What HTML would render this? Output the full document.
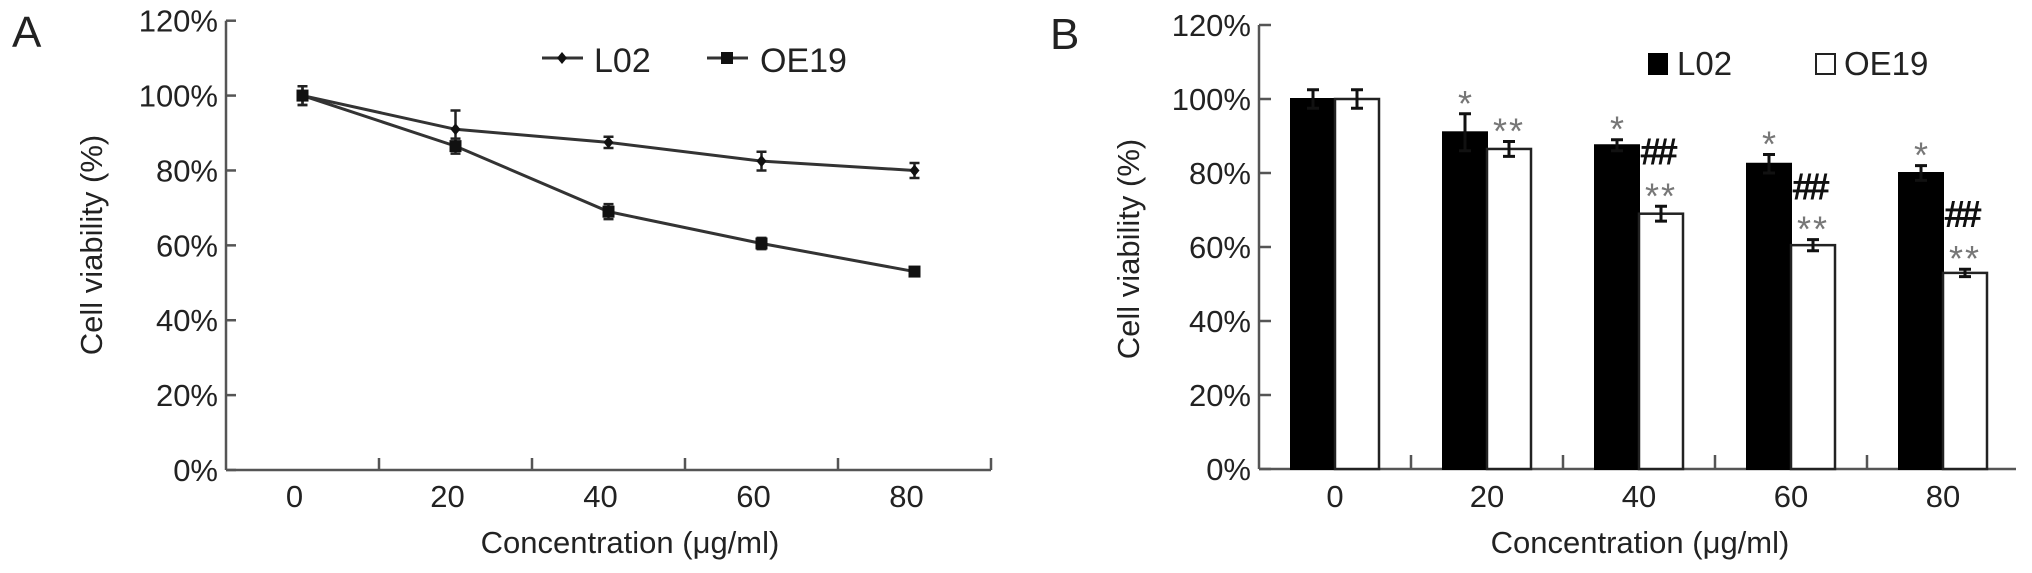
<!DOCTYPE html>
<html><head><meta charset="utf-8"><style>
html,body{margin:0;padding:0;background:#fff;}
svg{display:block;font-family:"Liberation Sans",Arial,sans-serif;}
</style></head><body>
<svg id="chart" width="2032" height="573" viewBox="0 0 2032 573" xmlns="http://www.w3.org/2000/svg"></svg>
<script>
const categories = ["0","20","40","60","80"];
const yTicks = [0,20,40,60,80,100,120];
const l02Values = [100,91,87.5,82.5,80];
const l02Errors = [2.5,5,1.5,2.5,2];
const oe19Values = [100,86.5,69,60.5,53];
const oe19Errors = [2.5,2,2,1.5,1];
const l02Stars = ["","*","*","*","*"];
const oe19Stars = ["","**","**","**","**"];
const hashLabels = ["","","##","##","##"];
const hashLevels = [0,0,86,76.5,69];

const NS="http://www.w3.org/2000/svg";
const svg=document.getElementById('chart');
function mk(tag,attrs,parent){const e=document.createElementNS(NS,tag);for(const k in attrs)e.setAttribute(k,attrs[k]);(parent||svg).appendChild(e);return e;}
function txt(s,attrs,parent){const e=mk('text',attrs,parent);e.textContent=s;return e;}
const INK="#222";

// ---------- Panel A ----------
const A={x0:226,y0:470,ytop:20.7,step:153,xend:991};
const ayA=v=>A.y0-(v/120)*(A.y0-A.ytop);
const axA=i=>A.x0+A.step/2+i*A.step;
const gA=mk('g',{});


const la=txt('A',{x:12,y:47,'font-size':44,fill:INK},gA);


const axesA=mk('g',{stroke:'#555','stroke-width':2.5,fill:'none'},gA);


mk('line',{x1:A.x0,y1:A.ytop,x2:A.x0,y2:A.y0},axesA);
mk('line',{x1:A.x0,y1:A.y0,x2:A.xend,y2:A.y0},axesA);
yTicks.forEach(t=>{
  const y=ayA(t);
  mk('line',{x1:A.x0,y1:y,x2:A.x0+10,y2:y},axesA);
  const e=txt(t+'%',{x:A.x0-8,y:y+11,'font-size':31,'text-anchor':'end',fill:INK},gA);
  
  
});
for(let k=1;k<categories.length+1;k++){const x=A.x0+k*A.step;mk('line',{x1:x,y1:A.y0,x2:x,y2:A.y0-12},axesA);}
categories.forEach((c,i)=>{
  const e=txt(c,{x:axA(i)-8,y:507,'font-size':31,'text-anchor':'middle',fill:INK},gA);
  
  
});
let e1=txt('Concentration (μg/ml)',{x:630,y:553,'font-size':31,'text-anchor':'middle',fill:INK},gA);


e1=txt('Cell viability (%)',{x:0,y:0,'font-size':31,'text-anchor':'middle',fill:INK,transform:'translate(102,245) rotate(-90)'},gA);



function drawLineSeries(vals,errs,marker,name){
  const g=mk('g',{},gA);
  
  
  const pts=vals.map((v,i)=>axA(i)+','+ayA(v)).join(' ');
  mk('polyline',{points:pts,fill:'none',stroke:'#333','stroke-width':3},g);
  vals.forEach((v,i)=>{
    const x=axA(i),yt=ayA(v+errs[i]),yb=ayA(v-errs[i]);
    const eb=mk('path',{d:`M${x},${yt}V${yb}M${x-5},${yt}H${x+5}M${x-5},${yb}H${x+5}`,stroke:'#222','stroke-width':2.5,fill:'none'},g);
    
    
    let m;
    if(marker==='square') m=mk('rect',{x:x-6,y:ayA(v)-6,width:12,height:12,fill:'#111'},g);
    else m=mk('polygon',{points:`${x},${ayA(v)-6} ${x+5},${ayA(v)} ${x},${ayA(v)+6} ${x-5},${ayA(v)}`,fill:'#111'},g);
    
    
  });
}
drawLineSeries(l02Values,l02Errors,'diamond','series-l02');
drawLineSeries(oe19Values,oe19Errors,'square','series-oe19');
const lgA=mk('g',{},gA);


mk('line',{x1:542,y1:58,x2:583,y2:58,stroke:'#333','stroke-width':3},lgA);
mk('polygon',{points:'562,52 567,58 562,64 557,58',fill:'#111'},lgA);
txt('L02',{x:594,y:72,'font-size':34,fill:INK},lgA);
mk('line',{x1:707,y1:58,x2:748,y2:58,stroke:'#333','stroke-width':3},lgA);
mk('rect',{x:721,y:52,width:12,height:12,fill:'#111'},lgA);
txt('OE19',{x:760,y:72,'font-size':34,fill:INK},lgA);

// ---------- Panel B ----------
const B={x0:1259,y0:469,ytop:25,step:152,xend:2016,bw:44};
const ayB=v=>B.y0-(v/120)*(B.y0-B.ytop);
const cxB=i=>B.x0+76+i*B.step;
const gB=mk('g',{});


const lb=txt('B',{x:1050,y:49,'font-size':44,fill:INK},gB);


const axesB=mk('g',{stroke:'#555','stroke-width':2.5,fill:'none'},gB);


mk('line',{x1:B.x0,y1:B.ytop,x2:B.x0,y2:B.y0},axesB);
mk('line',{x1:B.x0,y1:B.y0,x2:B.xend,y2:B.y0},axesB);
yTicks.forEach(t=>{
  const y=ayB(t);
  mk('line',{x1:B.x0,y1:y,x2:B.x0+12,y2:y},axesB);
  const e=txt(t+'%',{x:B.x0-8,y:y+11,'font-size':31,'text-anchor':'end',fill:INK},gB);
  
  
});
for(let k=1;k<categories.length;k++){const x=B.x0+k*B.step;mk('line',{x1:x,y1:B.y0,x2:x,y2:B.y0-14},axesB);}
categories.forEach((c,i)=>{
  const e=txt(c,{x:cxB(i),y:507,'font-size':31,'text-anchor':'middle',fill:INK},gB);
  
  
});
e1=txt('Concentration (μg/ml)',{x:1640,y:553,'font-size':31,'text-anchor':'middle',fill:INK},gB);


e1=txt('Cell viability (%)',{x:0,y:0,'font-size':31,'text-anchor':'middle',fill:INK,transform:'translate(1139,249) rotate(-90)'},gB);



categories.forEach((c,i)=>{
  const cx=cxB(i);
  const yb=ayB(l02Values[i]);
  const r1=mk('rect',{x:cx-B.bw,y:yb,width:B.bw,height:B.y0-yb,fill:'#000',stroke:'#000','stroke-width':2},gB);
  
  
  const yw=ayB(oe19Values[i]);
  const r2=mk('rect',{x:cx,y:yw,width:B.bw,height:B.y0-yw,fill:'#fff',stroke:'#222','stroke-width':2.5},gB);
  
  
  [[cx-B.bw/2,l02Values[i],l02Errors[i]],[cx+B.bw/2,oe19Values[i],oe19Errors[i]]].forEach(([x,v,er])=>{
    const t=ayB(v+er),b=ayB(v-er);
    const eb=mk('path',{d:`M${x},${t}V${b}M${x-6},${t}H${x+6}M${x-6},${b}H${x+6}`,stroke:'#111','stroke-width':3,fill:'none'},gB);
    
    
  });
  if(l02Stars[i]){
    const s=txt(l02Stars[i],{x:cx-B.bw/2,y:ayB(l02Values[i]+l02Errors[i])+2,'font-size':36,'text-anchor':'middle',fill:'#777'},gB);
    
    
  }
  if(oe19Stars[i]){
    const s=txt(oe19Stars[i],{x:cx+B.bw/2,y:ayB(oe19Values[i]+oe19Errors[i])+2,'font-size':36,'text-anchor':'middle',fill:'#777','letter-spacing':'2'},gB);
    
    
  }
  if(hashLabels[i]){
    const s=txt(hashLabels[i],{x:cx+2,y:ayB(hashLevels[i])+13,'font-size':36,fill:'#111',stroke:'#111','stroke-width':1,'letter-spacing':'-4'},gB);
    
    
  }
});
const lgB=mk('g',{},gB);


mk('rect',{x:1648,y:53,width:20,height:22,fill:'#000'},lgB);
txt('L02',{x:1677,y:75,'font-size':33,fill:INK},lgB);
mk('rect',{x:1816,y:54,width:19,height:20,fill:'#fff',stroke:'#222','stroke-width':2},lgB);
txt('OE19',{x:1844,y:75,'font-size':33,fill:INK},lgB);
</script>
</body></html>
